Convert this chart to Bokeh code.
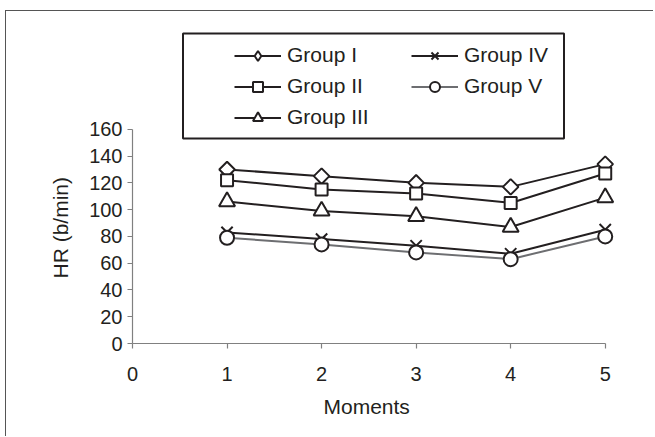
import numpy as np
from bokeh.plotting import figure
from bokeh.models import (Legend, LegendItem, BoxAnnotation, Range1d,
                          FixedTicker, Title)
from bokeh.embed import file_html
from bokeh.resources import INLINE

# Heart rate (b/min) per group at each measurement moment
moments = [1, 2, 3, 4, 5]
group_i = [130, 125, 120, 117, 134]
group_ii = [122, 115, 112, 105, 127]
group_iii = [106, 99, 95, 87, 109]
group_iv = [83, 78, 73, 67, 85]
group_v = [79, 74, 68, 63, 80]

group_names = ["Group I", "Group II", "Group III", "Group IV", "Group V"]
x_ticks = [0, 1, 2, 3, 4, 5]
y_ticks = [0, 20, 40, 60, 80, 100, 120, 140, 160]

FONT = "Liberation Sans"
INK = "#231f20"

# The plotting frame reaches past the last tick (right) and above 160 (top)
# so that end markers and the legend box are not clipped; the axis lines
# themselves are bounded to the tick span.
p = figure(width=648, height=426, output_backend="svg", toolbar_location=None,
           x_range=Range1d(0, 5.5), y_range=Range1d(0, 248),
           min_border_left=126, min_border_right=2,
           min_border_top=0, min_border_bottom=94)
p.outline_line_color = None
p.grid.visible = False
p.background_fill_color = "white"
p.border_fill_color = "white"
# chart-area border on the left and top edges
p.styles = {"margin-left": "5px", "margin-top": "9.5px",
            "border-left": "1.5px solid #555555",
            "border-top": "1.5px solid #555555"}

for ax in (p.xaxis[0], p.yaxis[0]):
    ax.axis_line_color = "#808080"
    ax.axis_line_width = 1.2
    ax.major_tick_line_color = "#808080"
    ax.major_tick_line_width = 1.2
    ax.major_tick_in = 0
    ax.major_tick_out = 5
    ax.minor_tick_line_color = None
    ax.major_label_text_font = FONT
    ax.major_label_text_font_size = "20px"
    ax.major_label_text_color = INK

p.xaxis.ticker = FixedTicker(ticks=x_ticks)
p.yaxis.ticker = FixedTicker(ticks=y_ticks)
p.xaxis.bounds = (x_ticks[0], x_ticks[-1])
p.yaxis.bounds = (y_ticks[0], y_ticks[-1])
p.xaxis.major_label_standoff = 18
p.yaxis.major_label_standoff = 5

# axis titles, centred on the bounded axis spans rather than on the frame
title_style = dict(text_font=FONT, text_font_size="21px",
                   text_font_style="normal", text_color=INK, align="left")
p.add_layout(Title(text="HR (b/min)", offset=65, vertical_align="bottom",
                   standoff=30, **title_style), "left")
p.add_layout(Title(text="Moments", offset=191, vertical_align="top",
                   standoff=22, **title_style), "below")

series = [group_i, group_ii, group_iii, group_iv, group_v]
markers = [
    dict(marker="square", size=11, angle=np.pi / 4),
    dict(marker="square", size=12, angle=0),
    dict(marker="triangle", size=16, angle=0),
    dict(marker="x", size=16, angle=0),
    dict(marker="circle", size=14, angle=0),
]
line_colors = [INK, INK, INK, INK, "#6d6e71"]

items = []
for name, vals, mk, lc in zip(group_names, series, markers, line_colors):
    lr = p.line(moments, vals, line_color=lc, line_width=2)
    sr = p.scatter(moments, vals, marker=mk["marker"], size=mk["size"],
                   angle=mk["angle"], line_color=INK, line_width=2,
                   fill_color="white")
    items.append([lr, sr])

# legend swatch for Group I: an upright diamond (legend markers are never
# rotated); zero size keeps it out of the plot area itself
key_diamond = p.scatter(moments, group_i, marker="diamond", size=0,
                        line_color=INK, line_width=2, fill_color="white")
items[0][1] = key_diamond

legend_items = [LegendItem(label=n, renderers=r) for n, r in zip(group_names, items)]

legend_style = dict(
    orientation="vertical", border_line_alpha=0, background_fill_alpha=0,
    padding=0, margin=0, glyph_width=47, glyph_height=25, label_height=25,
    spacing=6, label_standoff=6, label_text_font=FONT,
    label_text_font_size="21px", label_text_color=INK,
)
legend_left = Legend(items=legend_items[:3], location=(102, 213), **legend_style)
legend_right = Legend(items=legend_items[3:], location=(279, 244), **legend_style)
p.add_layout(legend_left, "center")
p.add_layout(legend_right, "center")

# frame around the two legend columns
p.add_layout(BoxAnnotation(left=175.5, right=556.5, top=21, bottom=126,
                           left_units="canvas", right_units="canvas",
                           top_units="canvas", bottom_units="canvas",
                           fill_alpha=0, line_color=INK, line_alpha=1,
                           line_width=2, level="overlay"))

open("out.html", "w").write(file_html(p, INLINE))
